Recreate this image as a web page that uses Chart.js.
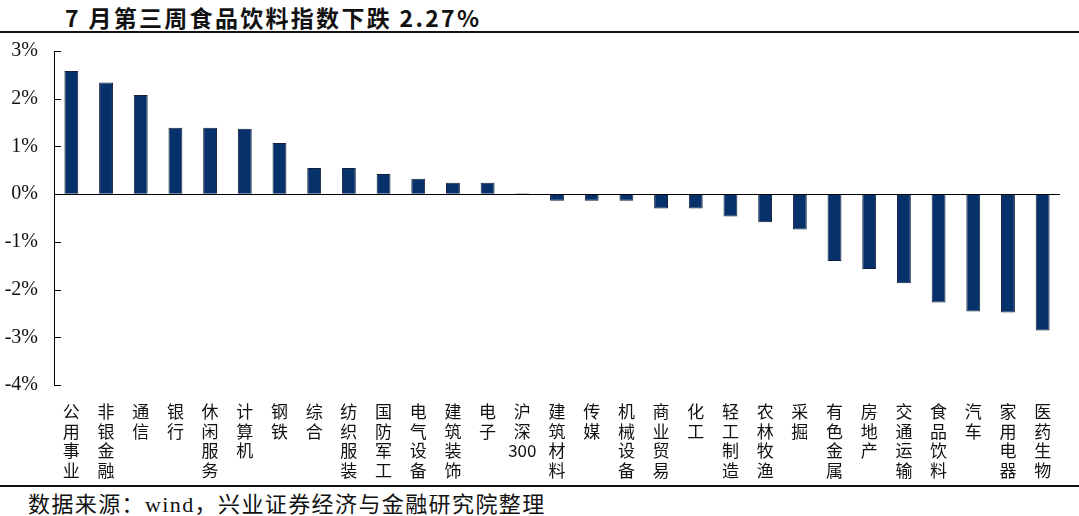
<!DOCTYPE html>
<html>
<head>
<meta charset="utf-8">
<script src="https://cdn.jsdelivr.net/npm/chart.js@4"></script>
<style>
  body { margin: 0; background: #fff; }
  #wrap { position: relative; width: 1079px; height: 516px; overflow: hidden; background: #fff; }
  #title {
    position: absolute; left: 65px; top: 0px;
    font: 700 23px "Noto Sans CJK SC", sans-serif; letter-spacing: 2.3px; color: #111;
  }
  .rule { position: absolute; left: 0; width: 1079px; height: 2px; background: #111; }
  #source {
    position: absolute; left: 28px; top: 486px;
    font: 22px "Liberation Serif", "Noto Sans CJK SC", serif; letter-spacing: 1.4px; color: #111;
  }
  #box { position: absolute; left: 0; top: 23px; width: 1079px; height: 462px; }
</style>
</head>
<body>
<div id="wrap">
  <div id="title">7 月第三周食品饮料指数下跌 2.27%</div>
  <div class="rule" style="top:31px"></div>
  <div id="box"><canvas id="barChart"></canvas></div>
  <div class="rule" style="top:485px"></div>
  <div id="source">数据来源：wind，兴业证券经济与金融研究院整理</div>
</div>
<script>
// 行业名称
const industries = [
  "公用事业", "非银金融", "通信", "银行", "休闲服务", "计算机", "钢铁",
  "综合", "纺织服装", "国防军工", "电气设备", "建筑装饰", "电子", "沪深300",
  "建筑材料", "传媒", "机械设备", "商业贸易", "化工", "轻工制造", "农林牧渔",
  "采掘", "有色金属", "房地产", "交通运输", "食品饮料", "汽车", "家用电器", "医药生物",
];
// 周涨跌幅 (%)
const weeklyChange = [
  2.58, 2.34, 2.08, 1.39, 1.39, 1.37, 1.07,
  0.55, 0.55, 0.42, 0.32, 0.24, 0.24, 0.02,
  -0.14, -0.14, -0.14, -0.30, -0.30, -0.47, -0.59,
  -0.74, -1.40, -1.57, -1.87, -2.27, -2.46, -2.48, -2.86,
];
const yTicks = [3, 2, 1, 0, -1, -2, -3, -4];

// 直排标签：每个字一行，数字保持在一起
function verticalLabel(name) {
  return name.match(/[0-9]+|./g);
}

// y轴向内的小刻度
const innerTicks = {
  id: "innerTicks",
  afterDraw(chart) {
    const y = chart.scales.y;
    const ctx = chart.ctx;
    ctx.save();
    ctx.strokeStyle = "#000";
    ctx.lineWidth = 1;
    yTicks.forEach((v) => {
      const py = Math.round(y.getPixelForValue(v)) + 0.5;
      ctx.beginPath();
      ctx.moveTo(y.right, py);
      ctx.lineTo(y.right + 7, py);
      ctx.stroke();
    });
    ctx.restore();
  },
};

const ctx = document.getElementById("barChart").getContext("2d");
const barChart = new Chart(ctx, {
  type: "bar",
  data: {
    labels: industries.map(verticalLabel),
    datasets: [
      {
        data: weeklyChange,
        backgroundColor: "#07316b",
        borderColor: "#14213d",
        borderWidth: 1,
        categoryPercentage: 1,
        barPercentage: 0.4,
      },
    ],
  },
  options: {
    responsive: true,
    maintainAspectRatio: false,
    animation: false,
    layout: { padding: { top: 7, right: 19, bottom: 0, left: 0 } },
    plugins: {
      legend: { display: false },
      tooltip: { enabled: false },
    },
    scales: {
      x: {
        grid: { display: false },
        border: { display: false },
        ticks: {
          autoSkip: false,
          maxRotation: 0,
          minRotation: 0,
          padding: 9,
          color: "#111",
          font: { family: "Noto Sans CJK SC", size: 17, lineHeight: 1.15 },
        },
        afterFit(scale) {
          scale.height = 100;
        },
      },
      y: {
        min: -4,
        max: 3,
        afterBuildTicks(scale) {
          scale.ticks = yTicks.map((v) => ({ value: v }));
        },
        grid: {
          drawTicks: false,
          color: (c) => (c.tick && c.tick.value === 0 ? "#000" : "rgba(0,0,0,0)"),
          lineWidth: 1,
        },
        border: { display: true, color: "#000", width: 1 },
        ticks: {
          padding: 16,
          color: "#111",
          font: { family: "'Liberation Serif', serif", size: 20 },
          callback: (v) => v + "%",
        },
        afterFit(scale) {
          scale.width = 54;
        },
      },
    },
  },
  plugins: [innerTicks],
});
</script>
</body>
</html>
